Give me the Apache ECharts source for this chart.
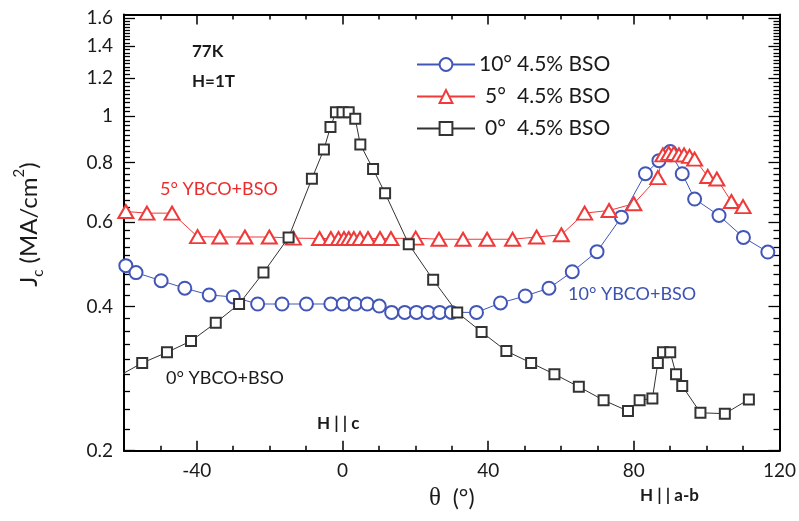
<!DOCTYPE html>
<html>
<head>
<meta charset="utf-8">
<script src="https://cdn.jsdelivr.net/npm/echarts@6/dist/echarts.min.js"></script>
<style>
  html, body { margin: 0; padding: 0; background: #fff; }
  #chart { width: 799px; height: 521px; }
</style>
</head>
<body>
<div id="chart"></div>
<script>
// Angular dependence of Jc at 77 K, 1 T for YBCO+BSO films on vicinal substrates
const theta10 = [-59.5, -56.7, -49.8, -43.3, -36.6, -30, -23.3, -16.6, -9.9, -3.2, 0.2, 3.5, 6.8, 10.1, 13.5, 17.1, 20.3, 23.5, 26.7, 29.9, 36.8, 43.4, 50.2, 56.7, 63.1, 69.9, 76.6, 83.2, 86.9, 90, 93.3, 96.7, 103.4, 110.1, 116.8];
const jc10 = [0.487, 0.471, 0.453, 0.437, 0.423, 0.419, 0.405, 0.405, 0.405, 0.405, 0.405, 0.405, 0.405, 0.401, 0.389, 0.389, 0.389, 0.389, 0.389, 0.389, 0.389, 0.407, 0.421, 0.437, 0.473, 0.521, 0.615, 0.758, 0.807, 0.843, 0.758, 0.671, 0.620, 0.558, 0.520];

const theta5 = [-59.5, -53.7, -46.8, -39.8, -33.7, -26.8, -20.1, -13.5, -6.3, -3.2, -1.1, 0.4, 1.7, 3.1, 4.8, 7.0, 10.3, 13.3, 20.1, 26.5, 33.1, 39.7, 46.7, 53.3, 60.1, 66.5, 73.2, 80, 86.6, 88.0, 89.6, 91.0, 92.4, 93.8, 95.3, 96.7, 100.3, 102.8, 106.8, 110];
const jc5 = [0.632, 0.627, 0.627, 0.560, 0.559, 0.559, 0.559, 0.556, 0.555, 0.555, 0.555, 0.555, 0.555, 0.555, 0.555, 0.555, 0.555, 0.555, 0.556, 0.553, 0.553, 0.553, 0.553, 0.559, 0.565, 0.627, 0.635, 0.656, 0.744, 0.830, 0.836, 0.836, 0.830, 0.830, 0.824, 0.813, 0.748, 0.739, 0.663, 0.647];

const theta0 = [-62, -55, -48.2, -41.6, -34.8, -28.4, -21.7, -14.8, -8.4, -5.1, -3.3, -1.8, 0, 1.7, 3.5, 4.9, 8.4, 11.7, 18.2, 24.9, 31.5, 38.2, 45, 51.8, 58.2, 64.9, 71.7, 78.4, 81.6, 85.1, 86.6, 88, 90, 91.6, 93.3, 98.3, 105, 111.6];
const jc0 = [0.285, 0.305, 0.321, 0.339, 0.370, 0.405, 0.471, 0.558, 0.740, 0.852, 0.949, 1.018, 1.018, 1.018, 0.987, 0.872, 0.775, 0.690, 0.540, 0.455, 0.389, 0.354, 0.323, 0.305, 0.289, 0.272, 0.255, 0.242, 0.255, 0.257, 0.305, 0.321, 0.321, 0.289, 0.273, 0.240, 0.239, 0.256];

const seriesNames = ['10° 4.5% BSO', '5° 4.5% BSO', '0° 4.5% BSO'];

// Axis ranges and tick labels
const xMin = -60, xMax = 120;
const xTickLabels = [-40, 0, 40, 80, 120];
const yMin = 0.2, yMax = 1.63;
const yTickLabels = [0.2, 0.4, 0.6, 0.8, 1.0, 1.2, 1.4, 1.6];

const BLUE = '#4256b8';
const RED = '#f03a3a';
const DARK = '#333333';
const FONT = 'Lato, "Open Sans", sans-serif';

// log10 transform used for the logarithmic Jc axis
const lg = v => Math.log10(v);
const toPairs = (xs, ys) => xs.map((x, i) => [x, lg(ys[i])]);

// minor tick positions: every 10 deg on x, nine sub-steps per 0.2 on y
const xMinor = [];
for (let v = xMin; v <= xMax; v += 10) if (v % 40 !== 0) xMinor.push(v);
const yMinor = [];
for (let k = 0; k < yTickLabels.length - 1; k++) {
  for (let j = 1; j < 9; j++) yMinor.push(lg(yTickLabels[k] + j * 0.2 / 9));
}
const yMajor = yTickLabels.map(lg);

function axisLineDef(show) {
  return { show: show, onZero: false, lineStyle: { color: '#000', width: 2 } };
}

function xAxisDef(position, major) {
  return {
    type: 'value', min: xMin, max: xMax, position: position,
    axisLine: axisLineDef(major),
    splitLine: { show: false },
    axisTick: {
      show: true, inside: true, length: major ? 10 : 5,
      customValues: major ? xTickLabels : xMinor,
      lineStyle: { color: '#000', width: 1.5 }
    },
    axisLabel: (major && position === 'bottom') ? {
      show: true, customValues: xTickLabels, fontSize: 19, fontFamily: FONT,
      color: '#1a1a1a', margin: 11
    } : { show: false }
  };
}

function yAxisDef(position, major) {
  return {
    type: 'value', min: lg(yMin), max: lg(yMax), position: position,
    axisLine: axisLineDef(major),
    splitLine: { show: false },
    axisTick: {
      show: true, inside: true, length: major ? 11 : 6,
      customValues: major ? yMajor : yMinor,
      lineStyle: { color: '#000', width: 1.3 }
    },
    axisLabel: (major && position === 'left') ? {
      show: true, customValues: yMajor, fontSize: 19, fontFamily: FONT,
      color: '#1a1a1a', margin: 11,
      formatter: v => String(Math.round(Math.pow(10, v) * 10) / 10)
    } : { show: false }
  };
}

const xAxes = [xAxisDef('bottom', true), xAxisDef('bottom', false), xAxisDef('top', true), xAxisDef('top', false)];
xAxes[0].name = '{t|θ}{p|  (°)}';
xAxes[0].nameLocation = 'middle';
xAxes[0].nameGap = 34;
xAxes[0].nameTextStyle = {
  rich: {
    t: { fontFamily: '"Liberation Serif", serif', fontSize: 25, color: '#1a1a1a' },
    p: { fontFamily: FONT, fontSize: 23, color: '#1a1a1a' }
  }
};

const yAxes = [yAxisDef('left', true), yAxisDef('left', false), yAxisDef('right', true), yAxisDef('right', false)];
yAxes[0].name = '{m|J}{sub|c}{m| (MA/cm}{sup|2}{m|)}';
yAxes[0].nameLocation = 'middle';
yAxes[0].nameRotate = 90;
yAxes[0].nameGap = 78;
yAxes[0].nameTextStyle = {
  padding: [0, 0, 0, 16],
  rich: {
    m: { fontFamily: FONT, fontSize: 24, color: '#1a1a1a', lineHeight: 34 },
    sub: { fontFamily: FONT, fontSize: 15, color: '#1a1a1a', lineHeight: 16, verticalAlign: 'bottom' },
    sup: { fontFamily: FONT, fontSize: 15, color: '#1a1a1a', lineHeight: 16, verticalAlign: 'top' }
  }
};

function lineSeries(name, xs, ys, color, symbol, size) {
  return {
    name: name, type: 'line', xAxisIndex: 0, yAxisIndex: 0,
    data: toPairs(xs, ys),
    symbol: symbol, symbolSize: size, showSymbol: true, clip: true,
    lineStyle: { color: color, width: 1 },
    itemStyle: { color: color, borderWidth: 1.3 },
    emphasis: { disabled: true },
    animation: false
  };
}

const legendParts = {
  '10° 4.5% BSO': ['10°', '4.5% BSO'],
  '5° 4.5% BSO': ['5°', '4.5% BSO'],
  '0° 4.5% BSO': ['0°', '4.5% BSO']
};

const option = {
  backgroundColor: '#fff',
  animation: false,
  grid: { left: 124, right: 19, top: 14.5, bottom: 70.3, containLabel: false },
  xAxis: xAxes,
  yAxis: yAxes,
  legend: {
    orient: 'vertical', left: 411, top: 49,
    itemWidth: 58, itemHeight: 16, itemGap: 11,
    data: seriesNames,
    selectedMode: false,
    formatter: name => '{a|' + legendParts[name][0] + '}{b|' + legendParts[name][1] + '}',
    textStyle: {
      fontFamily: FONT, fontSize: 21, color: '#1a1a1a',
      rich: {
        a: { fontFamily: FONT, fontSize: 21, color: '#1a1a1a', width: 31, align: 'right' },
        b: { fontFamily: FONT, fontSize: 21, color: '#1a1a1a', padding: [0, 0, 0, 6] }
      }
    }
  },
  series: [
    lineSeries(seriesNames[0], theta10, jc10, BLUE, 'emptyCircle', 13),
    lineSeries(seriesNames[1], theta5, jc5, RED, 'emptyTriangle', [15, 13]),
    lineSeries(seriesNames[2], theta0, jc0, DARK, 'emptyRect', 10)
  ],
  graphic: [
    { type: 'text', left: 192, top: 43, style: { text: '77K', font: 'bold 17px ' + FONT, fill: '#1a1a1a' } },
    { type: 'text', left: 192, top: 73, style: { text: 'H=1T', font: 'bold 17px ' + FONT, fill: '#1a1a1a' } },
    { type: 'text', left: 160, top: 180, style: { text: '5° YBCO+BSO', font: '18px ' + FONT, fill: '#ee2b2b' } },
    { type: 'text', left: 166, top: 369, style: { text: '0° YBCO+BSO', font: '18px ' + FONT, fill: '#1a1a1a' } },
    { type: 'text', left: 568, top: 285, style: { text: '10° YBCO+BSO', font: '18px ' + FONT, fill: '#3b52b3' } },
    { type: 'text', left: 317, top: 415, style: { text: 'H | | c', font: 'bold 17px ' + FONT, fill: '#1a1a1a' } },
    { type: 'text', left: 640, top: 487, style: { text: 'H | | a-b', font: 'bold 17px ' + FONT, fill: '#1a1a1a' } }
  ]
};

const chart = echarts.init(document.getElementById('chart'), null, { renderer: 'canvas' });
chart.setOption(option);
</script>
</body>
</html>
